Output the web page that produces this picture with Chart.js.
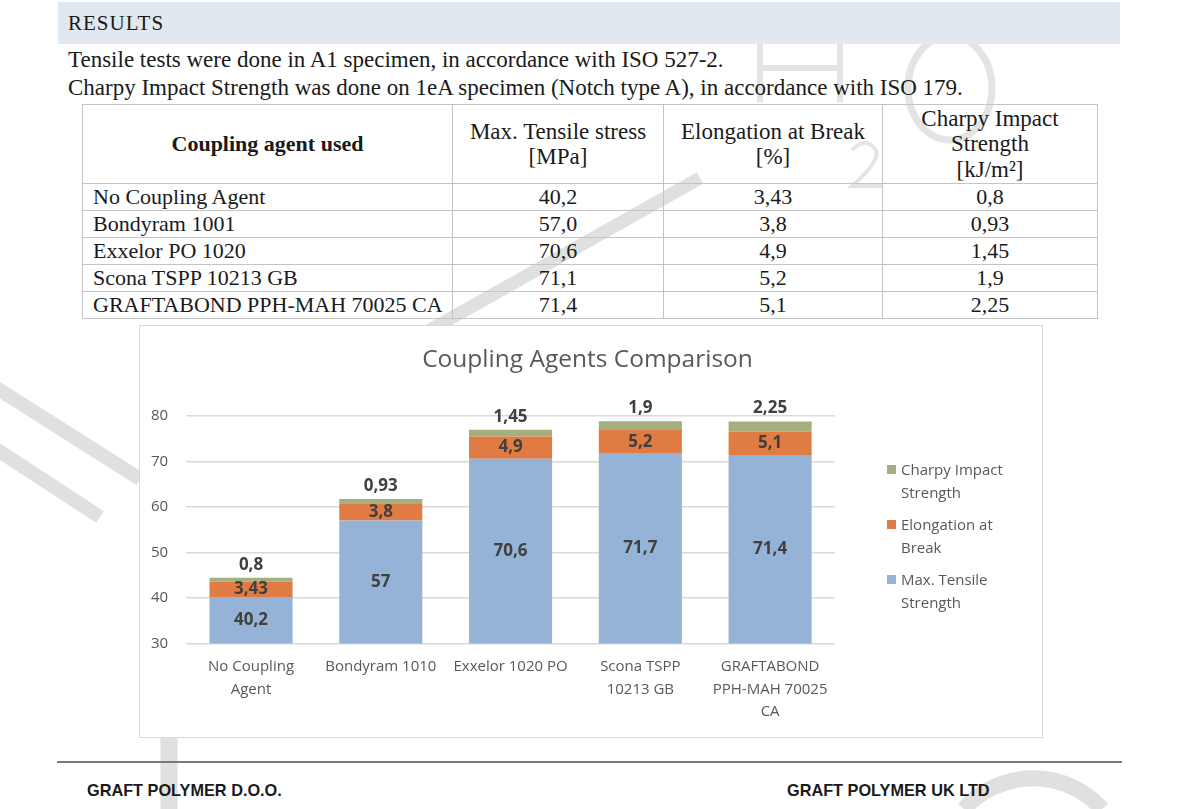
<!DOCTYPE html>
<html>
<head>
<meta charset="utf-8">
<title>Coupling Agents Comparison</title>
<script src="https://cdn.jsdelivr.net/npm/chart.js@4.4.1/dist/chart.umd.min.js"></script>
<style>
  html, body { margin: 0; padding: 0; background: #fff; }
  body { width: 1191px; height: 809px; position: relative; overflow: hidden; font-family: "Liberation Serif", serif; color: #1a1a1a; }
  .wm { position: absolute; left: 0; top: 0; width: 1191px; height: 809px; z-index: 0; }
  .band { position: absolute; left: 58px; top: 2px; width: 1062px; height: 42px; background: #e1e8f0; z-index: 1; }
  .band span { position: absolute; left: 10px; top: 9px; font-size: 21px; letter-spacing: 1px; }
  .txt { position: absolute; left: 68px; font-size: 23px; white-space: nowrap; z-index: 1; }
  table.res { position: absolute; left: 82px; top: 104px; width: 1016px; border-collapse: collapse; font-size: 22px; z-index: 1; }
  table.res td, table.res th { border: 1px solid #c4c4c4; padding: 0; text-align: center; }
  table.res th { font-weight: normal; height: 78px; line-height: 25.5px; font-size: 23px; }
  table.res th.first { font-weight: bold; font-size: 22px; }
  table.res td { height: 26px; line-height: 26px; }
  table.res td.name { text-align: left; padding-left: 10px; }
  .box { position: absolute; left: 139px; top: 325px; width: 902px; height: 411px; border: 1px solid #d9d9d9; background: #fff; z-index: 1; }
  .box canvas { position: absolute; left: 0; top: 0; }
  .legend { position: absolute; left: 746px; top: 132px; font-family: "Open Sans", sans-serif; font-size: 15px; color: #595959; z-index: 2; }
  .legend .item { position: relative; padding-left: 15px; line-height: 22.5px; margin-bottom: 10px; }
  .legend .sw { position: absolute; left: 1px; top: 7px; width: 9px; height: 9px; }
  .rule { position: absolute; left: 57px; top: 761px; width: 1065px; height: 2px; background: #7a7a7a; z-index: 1; }
  .foot { position: absolute; top: 781px; font-family: "Liberation Sans", Arial, sans-serif; font-weight: bold; font-size: 16.3px; color: #1a1a1a; z-index: 1; }
</style>
</head>
<body>

<!-- faint background watermark of the letterhead -->
<svg class="wm" viewBox="0 0 1191 809">
  <g stroke="#e0e0e0" fill="none" stroke-linecap="butt">
    <line x1="-10" y1="384" x2="140" y2="479" stroke-width="14"/>
    <line x1="-10" y1="445" x2="100" y2="517" stroke-width="14"/>
    <line x1="700" y1="178" x2="430" y2="330" stroke-width="13"/>
    <line x1="169" y1="736" x2="169" y2="809" stroke-width="17"/>
    <path d="M964 809 A 93 93 0 0 1 1102 809" stroke-width="16"/>
  </g>
  <g stroke="#e4e4e4" fill="none">
    <path d="M760 30 L760 102 M840 30 L840 102 M760 68 L840 68" stroke-width="6"/>
    <path d="M852 150 Q866 136 876 150 Q880 162 852 186 L882 186" stroke-width="4"/>
    <ellipse cx="950" cy="88" rx="42" ry="52" stroke-width="7"/>
  </g>
</svg>

<div class="band"><span>RESULTS</span></div>
<div class="txt" style="top:47px">Tensile tests were done in A1 specimen, in accordance with ISO 527-2.</div>
<div class="txt" style="top:75px">Charpy Impact Strength was done on 1eA specimen (Notch type A), in accordance with ISO 179.</div>

<table class="res" id="resTable"></table>

<div class="box">
  <canvas id="chart" width="902" height="411"></canvas>
  <div class="legend" id="legend"></div>
</div>

<div class="rule"></div>
<div class="foot" style="left:87px">GRAFT POLYMER D.O.O.</div>
<div class="foot" style="left:787px">GRAFT POLYMER UK LTD</div>

<script>
// table values (as printed in the report)
const tableHeaders = [["Coupling agent used"], ["Max. Tensile stress", "[MPa]"], ["Elongation at Break", "[%]"], ["Charpy Impact", "Strength", "[kJ/m²]"]];
const tableAgents = ["No Coupling Agent", "Bondyram 1001", "Exxelor PO 1020", "Scona TSPP 10213 GB", "GRAFTABOND PPH-MAH 70025 CA"];
const tableTensile = ["40,2", "57,0", "70,6", "71,1", "71,4"];
const tableElongation = ["3,43", "3,8", "4,9", "5,2", "5,1"];
const tableCharpy = ["0,8", "0,93", "1,45", "1,9", "2,25"];

// chart values
const categories = [["No Coupling", "Agent"], "Bondyram 1010", "Exxelor 1020 PO", ["Scona TSPP", "10213 GB"], ["GRAFTABOND", "PPH-MAH 70025", "CA"]];
const tensile = [40.2, 57, 70.6, 71.7, 71.4];
const elongation = [3.43, 3.8, 4.9, 5.2, 5.1];
const charpy = [0.8, 0.93, 1.45, 1.9, 2.25];
const seriesNames = ["Max. Tensile Strength", "Elongation at Break", "Charpy Impact Strength"];
const legendLines = [["Max. Tensile", "Strength"], ["Elongation at", "Break"], ["Charpy Impact", "Strength"]];
const seriesColors = ["#95b3d6", "#e07c43", "#a4ae7f"];
const yMin = 30, yMax = 80, yStep = 10;

// build the table
const colWidths = [369, 210, 218, null];
const tbl = document.getElementById('resTable');
let html = '<tr>';
tableHeaders.forEach((h, i) => {
  const w = colWidths[i] ? ' style="width:' + colWidths[i] + 'px"' : '';
  html += '<th' + (i === 0 ? ' class="first"' : '') + w + '>' + h.join('<br>') + '</th>';
});
html += '</tr>';
tableAgents.forEach((a, i) => {
  html += '<tr><td class="name">' + a + '</td><td>' + tableTensile[i] + '</td><td>' + tableElongation[i] + '</td><td>' + tableCharpy[i] + '</td></tr>';
});
tbl.innerHTML = html;

// legend, top entry is the last series (like the stack)
const leg = document.getElementById('legend');
for (let i = seriesNames.length - 1; i >= 0; i--) {
  const it = document.createElement('div');
  it.className = 'item';
  it.innerHTML = '<span class="sw" style="background:' + seriesColors[i] + '"></span>' + legendLines[i].join('<br>');
  leg.appendChild(it);
}

const fmt = v => String(v).replace('.', ',');

// value labels drawn on the bars
const barLabels = {
  id: 'barLabels',
  afterDatasetsDraw(chart) {
    const ctx = chart.ctx;
    const area = chart.chartArea;
    ctx.save();
    ctx.font = 'bold 17px "Open Sans", sans-serif';
    ctx.fillStyle = '#404040';
    ctx.textAlign = 'center';
    ctx.textBaseline = 'middle';
    const last = chart.data.datasets.length - 1;
    chart.data.datasets.forEach((ds, di) => {
      const meta = chart.getDatasetMeta(di);
      meta.data.forEach((bar, i) => {
        const txt = fmt(ds.data[i]);
        if (di === last) {
          ctx.fillText(txt, bar.x, bar.y - 13);
        } else {
          const base = Math.min(bar.base, area.bottom);
          ctx.fillText(txt, bar.x, (bar.y + base) / 2);
        }
      });
    });
    ctx.restore();
  }
};

const data = [tensile, elongation, charpy];
new Chart(document.getElementById('chart'), {
  type: 'bar',
  data: {
    labels: categories,
    datasets: seriesNames.map((name, i) => ({
      label: name,
      data: data[i],
      backgroundColor: seriesColors[i],
      borderWidth: 0,
      categoryPercentage: 1,
      barPercentage: 0.64
    }))
  },
  options: {
    responsive: false,
    animation: false,
    layout: { padding: { left: -7, right: 0, top: 0, bottom: 10 } },
    plugins: {
      legend: { display: false },
      tooltip: { enabled: false },
      title: {
        display: true,
        text: 'Coupling Agents Comparison',
        color: '#595959',
        font: { family: '"Open Sans", sans-serif', size: 24.5, weight: 'normal' },
        padding: { top: 19, bottom: 41.5 }
      }
    },
    scales: {
      x: {
        stacked: true,
        grid: { display: false },
        border: { display: false },
        ticks: {
          color: '#595959',
          font: { family: '"Open Sans", sans-serif', size: 15, lineHeight: 1.5 },
          padding: 4,
          maxRotation: 0,
          autoSkip: false
        }
      },
      y: {
        stacked: true,
        min: yMin,
        max: yMax,
        grid: { color: '#d9d9d9', lineWidth: 1.5, drawTicks: false },
        border: { display: false },
        ticks: {
          stepSize: yStep,
          color: '#595959',
          font: { family: '"Open Sans", sans-serif', size: 15 },
          padding: 18
        }
      },
      // empty axis on the right keeps room for the legend
      side: {
        type: 'linear',
        position: 'right',
        display: true,
        grid: { display: false },
        border: { display: false },
        ticks: { display: false },
        afterFit(scale) { scale.width = 207; }
      }
    }
  },
  plugins: [barLabels]
});
</script>
</body>
</html>
